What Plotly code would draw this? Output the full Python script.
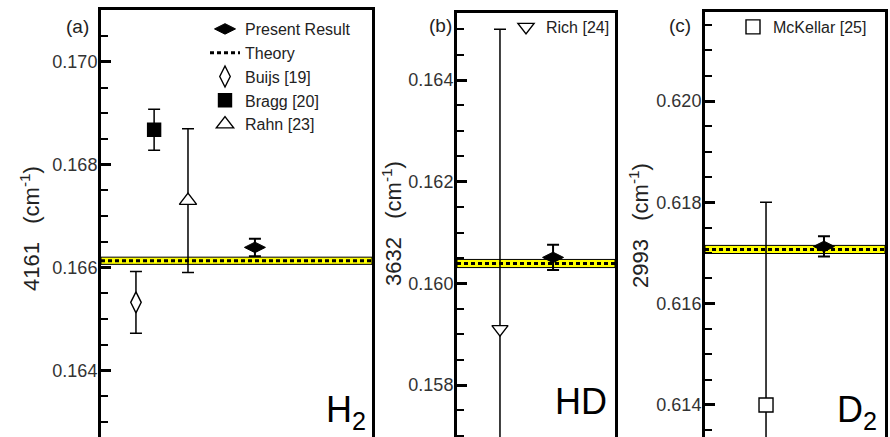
import plotly.graph_objects as go

# ---------------- data ----------------
# Panel (a): H2, 4161 cm^-1 line
h2_sources = ["Buijs [19]", "Bragg [20]", "Rahn [23]"]
h2_slot = [0.129, 0.196, 0.321]
h2_values = [0.16532, 0.16868, 0.16730]
h2_errors = [0.00060, 0.00040, 0.00140]
h2_present_slot = 0.568
h2_present = 0.16639
h2_present_err = 0.00017
h2_theory = 0.16613
h2_theory_band = 0.00007

# Panel (b): HD, 3632 cm^-1 line
hd_sources = ["Rich [24]"]
hd_slot = [0.272]
hd_values = [0.15910]
hd_errors = [0.00590]
hd_present_slot = 0.608
hd_present = 0.16051
hd_present_err = 0.00025
hd_theory = 0.16039
hd_theory_band = 0.00008

# Panel (c): D2, 2993 cm^-1 line
d2_sources = ["McKellar [25]"]
d2_slot = [0.339]
d2_values = [0.61400]
d2_errors = [0.00400]
d2_present_slot = 0.661
d2_present = 0.61713
d2_present_err = 0.00020
d2_theory = 0.61707
d2_theory_band = 0.00008

# ---------------- styling ----------------
FONT = "Liberation Sans, Arial, Helvetica, sans-serif"
W, H = 890, 437

# (symbol, filled?) for each earlier measurement
h2_symbols = [("diamond-tall", False), ("square", True), ("triangle-up", False)]
h2_sizes = [15, 13, 15]
hd_symbols = [("triangle-down", False)]
d2_symbols = [("square", False)]

fig = go.Figure()


def err(e, thick=1.5, w=6):
    return dict(type="data", array=e, visible=True, color="black",
                thickness=thick, width=w)


def add_panel(n, present_slot, present, present_err, theory, band,
              sources, slots, values, errors, symbols, sizes, legend, first):
    xa, ya = ("x" if n == 1 else f"x{n}"), ("y" if n == 1 else f"y{n}")
    # theory uncertainty band
    fig.add_shape(type="rect", xref=f"{xa} domain", yref=ya,
                  x0=0, x1=1, y0=theory - band, y1=theory + band,
                  fillcolor="#ffff00", line=dict(color="black", width=1),
                  layer="below")
    # present result
    fig.add_trace(go.Scatter(
        x=[present_slot], y=[present], mode="markers", name="Present Result",
        marker=dict(symbol="diamond-wide", size=15, color="black",
                    line=dict(color="black", width=1)),
        error_y=err([present_err], thick=2, w=6),
        xaxis=xa, yaxis=ya, showlegend=first, legend="legend"))
    # theory line
    fig.add_trace(go.Scatter(
        x=[0, 1], y=[theory, theory], mode="lines", name="Theory",
        line=dict(color="black", width=3, dash="4px,3px"),
        xaxis=xa, yaxis=ya, showlegend=first, legend="legend"))
    # earlier measurements (open symbols keep a white interior)
    for name, sx, v, e, (sym, filled), sz in zip(sources, slots, values,
                                                  errors, symbols, sizes):
        fig.add_trace(go.Scatter(
            x=[sx], y=[v], mode="markers", name=name,
            marker=dict(symbol=sym, size=sz,
                        color="black" if filled else "white",
                        line=dict(color="black", width=1.4)),
            error_y=err([e]),
            xaxis=xa, yaxis=ya, showlegend=True, legend=legend))


add_panel(1, h2_present_slot, h2_present, h2_present_err, h2_theory,
          h2_theory_band, h2_sources, h2_slot, h2_values, h2_errors,
          h2_symbols, h2_sizes, "legend", True)
add_panel(2, hd_present_slot, hd_present, hd_present_err, hd_theory,
          hd_theory_band, hd_sources, hd_slot, hd_values, hd_errors,
          hd_symbols, [14], "legend2", False)
add_panel(3, d2_present_slot, d2_present, d2_present_err, d2_theory,
          d2_theory_band, d2_sources, d2_slot, d2_values, d2_errors,
          d2_symbols, [14], "legend3", False)

# ---------------- axes ----------------
x_domains = [(101 / W, 372 / W), (457 / W, 615 / W), (705 / W, 885 / W)]
y_tops = [1 - 10 / H, 1 - 12.7 / H, 1 - 12 / H]
y_ranges = [(0.16270, 0.17101), (0.156977, 0.165324), (0.613368, 0.621757)]

for i in range(3):
    sfx = "" if i == 0 else str(i + 1)
    fig.update_layout(**{
        f"xaxis{sfx}": dict(
            domain=list(x_domains[i]), range=[0, 1], side="top",
            showline=True, linewidth=3, linecolor="black", mirror=False,
            ticks="", showticklabels=False, showgrid=False, zeroline=False,
            anchor=f"y{sfx}"),
        f"yaxis{sfx}": dict(
            domain=[0, y_tops[i]], range=list(y_ranges[i]),
            showline=True, linewidth=3, linecolor="black", mirror=True,
            ticks="inside", ticklen=10, tickwidth=3, tickcolor="black",
            tick0=0, dtick=0.002, tickformat=".3f",
            minor=dict(dtick=0.0005, ticks="inside", ticklen=7,
                       tickwidth=2, tickcolor="black", showgrid=False),
            tickfont=dict(family=FONT, size=18, color="#333333"),
            ticklabelstandoff=-3,
            showgrid=False, zeroline=False, anchor=f"x{sfx}"),
    })

# ---------------- text ----------------
ann = []
titles = [("4161", 30, 229), ("3632", 392, 224), ("2993", 639, 226)]
for num, cx, cy in titles:
    ann.append(dict(text=f"{num}   (cm<sup>-1</sup>)", x=cx / W, y=1 - cy / H,
                    xref="paper", yref="paper", textangle=-90,
                    showarrow=False, xanchor="center", yanchor="middle",
                    font=dict(family=FONT, size=22, color="#222222")))
for lab, cx, cy in [("(a)", 77, 26), ("(b)", 440, 25), ("(c)", 680, 25)]:
    ann.append(dict(text=lab, x=cx / W, y=1 - cy / H, xref="paper",
                    yref="paper", showarrow=False, xanchor="center",
                    yanchor="middle",
                    font=dict(family=FONT, size=19, color="#222222")))
for lab, rx, by in [("H<sub>2</sub>", 368, 437), ("HD", 609, 424),
                    ("D<sub>2</sub>", 879, 437)]:
    ann.append(dict(text=lab, x=rx / W, y=1 - by / H, xref="paper",
                    yref="paper", showarrow=False, xanchor="right",
                    yanchor="bottom",
                    font=dict(family=FONT, size=36, color="black")))

leg_common = dict(bgcolor="rgba(0,0,0,0)", borderwidth=0,
                  font=dict(family=FONT, size=16, color="#222222"),
                  xanchor="left", yanchor="top", itemclick=False)

fig.update_layout(
    width=W, height=H, margin=dict(l=0, r=0, t=0, b=0),
    paper_bgcolor="white", plot_bgcolor="white",
    annotations=ann,
    legend=dict(x=205 / W, y=1 - 12 / H, **leg_common),
    legend2=dict(x=506 / W, y=1 - 10 / H, **leg_common),
    legend3=dict(x=733 / W, y=1 - 10 / H, **leg_common),
)

fig.write_html("out.html")
